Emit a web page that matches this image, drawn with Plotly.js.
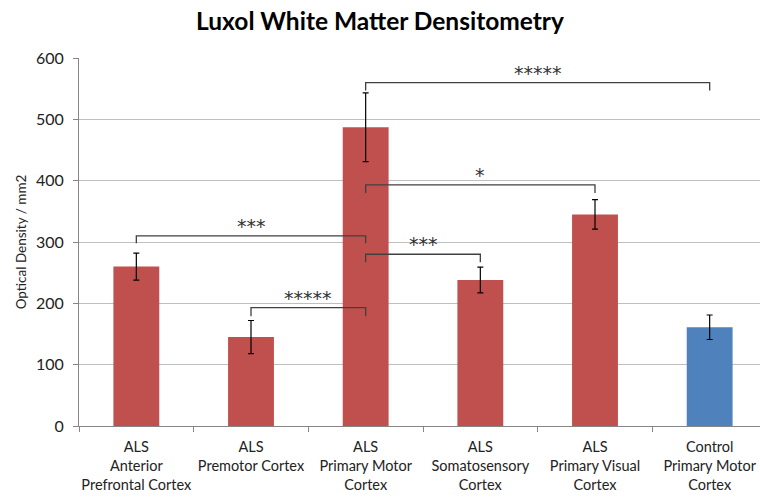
<!DOCTYPE html>
<html>
<head>
<meta charset="utf-8">
<script src="https://cdn.plot.ly/plotly-3.0.1.min.js"></script>
<style>html,body{margin:0;padding:0;background:#fff;}#chart{width:760px;height:498px;}</style>
</head>
<body>
<div id="chart"></div>
<script>
var categories = [
  "ALS<br>Anterior<br>Prefrontal Cortex",
  "ALS<br>Premotor Cortex",
  "ALS<br>Primary Motor<br>Cortex",
  "ALS<br>Somatosensory<br>Cortex",
  "ALS<br>Primary Visual<br>Cortex",
  "Control<br>Primary Motor<br>Cortex"
];
var values = [260, 145, 487, 238, 345, 161];
var errors = [22, 27, 56, 21, 24, 20];
var barColors = ["#C0504D", "#C0504D", "#C0504D", "#C0504D", "#C0504D", "#4F81BD"];

// significance brackets: from index, to index, bar height, left leg end, right leg end, label
var bracketFrom = [2, 2, 0, 2, 1];
var bracketTo = [5, 4, 2, 3, 2];
var bracketY = [560, 393, 310, 280, 193];
var bracketLeftEnd = [547, 380, 298, 267, 179];
var bracketRightEnd = [547, 380, 298, 267, 179];
var bracketLabels = ["*****", "*", "***", "***", "*****"];

var shapes = [];
var annotations = [];
for (var i = 0; i < bracketFrom.length; i++) {
  var a = bracketFrom[i], b = bracketTo[i], y = bracketY[i];
  shapes.push({type: "path", xref: "x", yref: "y",
    path: "M " + a + "," + bracketLeftEnd[i] + " L " + a + "," + y + " L " + b + "," + y + " L " + b + "," + bracketRightEnd[i],
    line: {color: "#404040", width: 1.3}});
  annotations.push({x: (a + b) / 2, y: y, xref: "x", yref: "y", text: bracketLabels[i],
    showarrow: false, yanchor: "bottom", yshift: -3,
    font: {family: "DejaVu Sans", size: 19, color: "#333"}});
}

var trace = {
  type: "bar",
  x: categories,
  y: values,
  marker: {color: barColors},
  error_y: {type: "data", array: errors, visible: true, color: "#000", thickness: 1.2, width: 3},
  hoverinfo: "none"
};

var layout = {
  width: 760, height: 498,
  margin: {l: 79, r: 0, t: 58, b: 72},
  paper_bgcolor: "#fff", plot_bgcolor: "#fff",
  showlegend: false,
  bargap: 0.6,
  title: {text: "<b>Luxol White Matter Densitometry</b>", x: 0.5, xref: "container", xanchor: "center",
    y: 0.957, yref: "container", yanchor: "middle",
    font: {family: "Lato", size: 24.5, color: "#000"}},
  font: {family: "Lato", color: "#222"},
  xaxis: {
    type: "category",
    range: [-0.5, 5.439],
    showline: true, linecolor: "#868686", linewidth: 1,
    ticks: "outside", tickson: "boundaries", ticklen: 5, tickcolor: "#868686",
    showgrid: false, zeroline: false, tickangle: 0, ticklabelstandoff: 8,
    tickfont: {family: "Lato", size: 14.5, color: "#222"}
  },
  yaxis: {
    range: [0, 600], dtick: 100,
    showline: true, linecolor: "#868686", linewidth: 1,
    ticks: "outside", ticklen: 5, tickcolor: "#868686",
    showgrid: true, gridcolor: "#BFBFBF", gridwidth: 1, zeroline: false, ticklabelstandoff: 6,
    tickfont: {family: "Lato", size: 16, color: "#222"},
    title: {text: "Optical Density / mm2", font: {family: "Lato", size: 13.5, color: "#222"}, standoff: 6}
  },
  shapes: shapes,
  annotations: annotations
};

Plotly.newPlot("chart", [trace], layout, {displayModeBar: false, staticPlot: true});
</script>
</body>
</html>
